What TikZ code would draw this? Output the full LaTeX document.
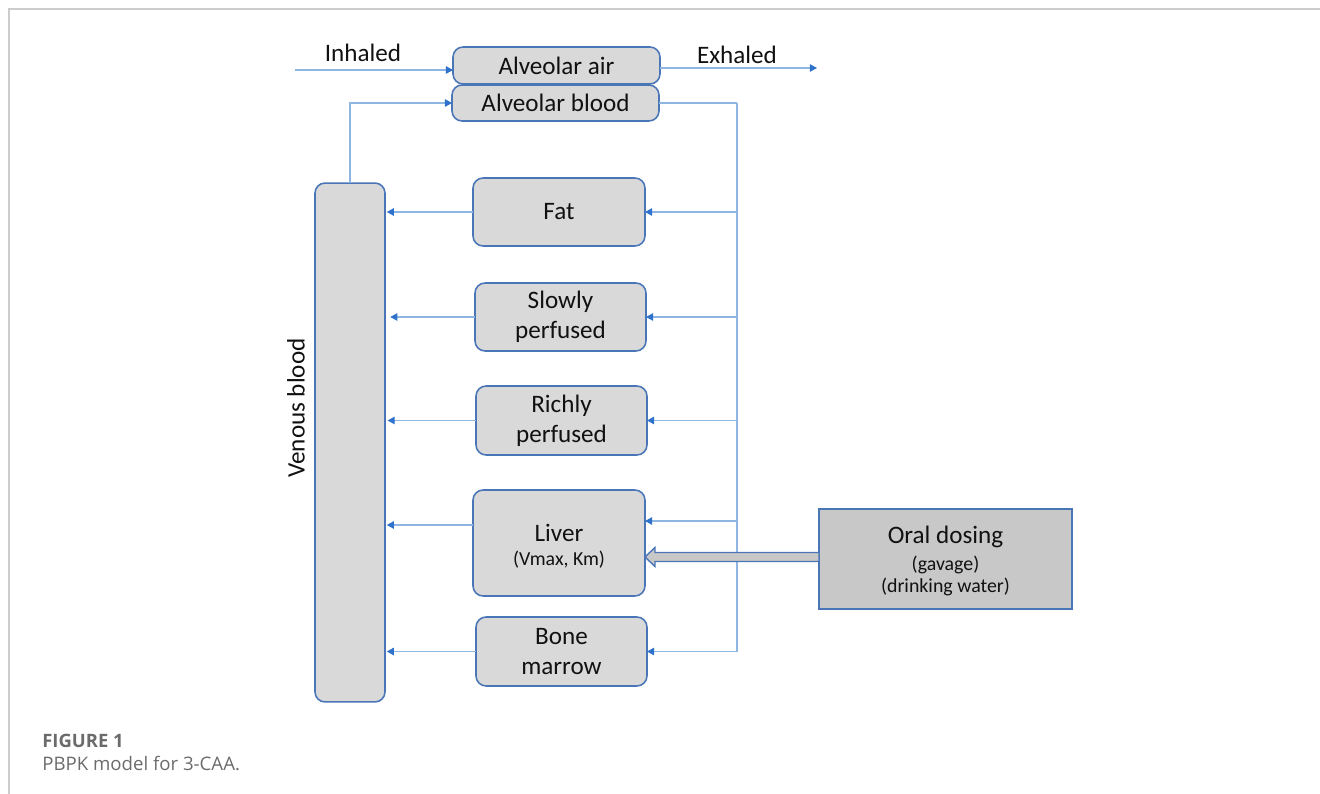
\documentclass[tikz,border=0pt]{standalone}
\usepackage{fontspec}
\setmainfont{Carlito}
\newfontfamily\capfont{Open Sans}
\usetikzlibrary{arrows.meta,calc}
\definecolor{boxfill}{HTML}{D9D9D9}
\definecolor{boxdraw}{HTML}{4A76B8}
\definecolor{oralfill}{HTML}{C8C8C8}
\definecolor{connc}{HTML}{8FB6E3}
\definecolor{tipc}{HTML}{2F72CC}
\definecolor{framec}{HTML}{CCCCCC}
\definecolor{capc}{HTML}{6B6B6B}
\definecolor{txt}{HTML}{111111}
\tikzset{
  box/.style={draw=boxdraw, fill=boxfill, line width=0.9pt, rounded corners=0.2cm,
    inner sep=0pt, outer sep=0pt, align=center, text=txt,
    font=\fontsize{14.3}{17}\selectfont},
  oralbox/.style={draw=boxdraw, fill=oralfill, line width=0.9pt,
    inner sep=0pt, outer sep=0pt, align=center, text=txt},
  conn/.style={draw=connc, line width=0.7pt},
  arr/.style={conn, -{Triangle[length=4pt,width=4.2pt,color=tipc]}},
  lbl/.style={text=txt, font=\fontsize{14.3}{16}\selectfont, inner sep=0pt},
  small/.style={font=\fontsize{11.3}{13}\selectfont}
}
\begin{document}
\begin{tikzpicture}[x=0.02cm,y=-0.02cm]
\useasboundingbox (0,0) rectangle (1320,794);
% frame
\draw[framec, line width=0.8pt] (9,794) -- (9,9) -- (1320,9);

% boxes
\node[box, minimum width=4.14cm, minimum height=0.74cm] (air) at (556.5,65.5) {Alveolar air};
\node[box, minimum width=4.14cm, minimum height=0.72cm] (blood) at (555.5,103) {Alveolar blood};
\node[box, minimum width=1.4cm, minimum height=10.38cm] (venous) at (350,442.5) {};
\node[lbl, rotate=90] (venlbl) at (296,408) {Venous blood};
\node[box, minimum width=3.44cm, minimum height=1.36cm] (fat) at (559,212) {Fat};
\node[box, minimum width=3.42cm, minimum height=1.36cm] (slow) at (560.5,317) {Slowly\\perfused};
\node[box, minimum width=3.42cm, minimum height=1.38cm] (rich) at (561.5,420.5) {Richly\\perfused};
\node[box, minimum width=3.44cm, minimum height=2.12cm] (liver) at (559,543) {};
\node[text=txt, font=\fontsize{14.3}{16}\selectfont, inner sep=0pt] (livt) at (559,533) {Liver};
\node[text=txt, small, inner sep=0pt] (livs) at (559,560) {(Vmax, Km)};
\node[box, minimum width=3.42cm, minimum height=1.38cm] (bone) at (561.5,651.5) {Bone\\marrow};
\node[oralbox, minimum width=5.06cm, minimum height=2.0cm] (oral) at (945.5,559) {};
\node[text=txt, font=\fontsize{14.3}{16}\selectfont, inner sep=0pt] (oralt) at (945.5,537) {Oral dosing};
\node[text=txt, small, inner sep=0pt] (gav) at (945.5,565) {(gavage)};
\node[text=txt, small, inner sep=0pt] (dw) at (945.5,587) {(drinking water)};

% labels
\node[lbl] (inl) at (363,53) {Inhaled};
\node[lbl] (exl) at (737,55) {Exhaled};

% inhaled / exhaled
\coordinate (inS) at (295,70);
\draw[arr] (inS) -- (inS -| air.west);
\coordinate (exE) at (817,68);
\draw[arr] (exE -| air.east) -- (exE);

% arterial bus
\coordinate (bus) at (737,103);
\draw[conn] (blood.east) -- (bus);
\draw[arr] (bus) -- (bus |- bone.east) -- (bone.east);
\draw[arr] (bus |- fat.east) -- (fat.east);
\draw[arr] (bus |- slow.east) -- (slow.east);
\draw[arr] (bus |- rich.east) -- (rich.east);
\coordinate (lvR) at (737,521);
\draw[arr] (lvR) -- (lvR -| liver.east);

% venous return
\draw[arr] (venous.north) -- (venous.north |- blood.west) -- (blood.west);
\draw[arr, shorten >=1pt] (fat.west) -- (fat.west -| venous.east);
\draw[arr, shorten >=3pt] (slow.west) -- (slow.west -| venous.east);
\draw[arr, shorten >=1.5pt] (rich.west) -- (rich.west -| venous.east);
\coordinate (lvL) at (473,525);
\draw[arr, shorten >=1pt] (lvL) -- (lvL -| venous.east);
\draw[arr, shorten >=1pt] (bone.west) -- (bone.west -| venous.east);

% oral dosing block arrow
\coordinate (tip) at ($(liver.east |- oral.west)+(0,-2)$);
\coordinate (base) at ($(oral.west)+(0,-2)$);
\draw[draw=boxdraw, fill=oralfill, line width=0.8pt, line join=miter]
  (tip) -- ++(10,-9.5) -- ++(0,5) -- ($(base)+(0,-4.5)$) -- ($(base)+(0,4.5)$)
  -- ($(tip)+(10,4.5)$) -- ++(0,5) -- cycle;

% caption
\node[anchor=base west, inner sep=0pt, text=capc, font=\capfont\bfseries\fontsize{10.5}{12}\selectfont] (fig) at (42,747) {FIGURE 1};
\node[anchor=base west, inner sep=0pt, text=capc, font=\capfont\fontsize{10.6}{12}\selectfont] (cap) at (42,770) {PBPK model for 3-CAA.};
\end{tikzpicture}
\end{document}
